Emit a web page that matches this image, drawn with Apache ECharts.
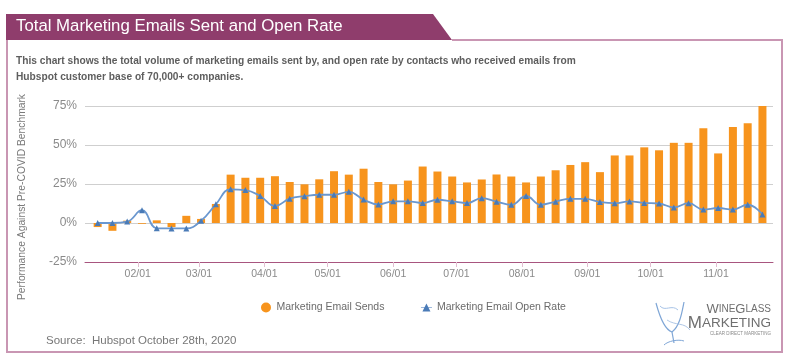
<!DOCTYPE html>
<html><head><meta charset="utf-8">
<script src="https://cdn.jsdelivr.net/npm/echarts@6/dist/echarts.min.js"></script>
<style>html,body{margin:0;padding:0;background:#fff}#c{width:800px;height:359px}</style>
</head><body><div id="c"></div>
<script>
const weeks = ['2020-01-13','2020-01-20','2020-01-27','2020-02-03','2020-02-10','2020-02-17','2020-02-24',
'2020-03-02','2020-03-09','2020-03-16','2020-03-23','2020-03-30','2020-04-06','2020-04-13','2020-04-20','2020-04-27',
'2020-05-04','2020-05-11','2020-05-18','2020-05-25','2020-06-01','2020-06-08','2020-06-15','2020-06-22','2020-06-29',
'2020-07-06','2020-07-13','2020-07-20','2020-07-27','2020-08-03','2020-08-10','2020-08-17','2020-08-24','2020-08-31',
'2020-09-07','2020-09-14','2020-09-21','2020-09-28','2020-10-05','2020-10-12','2020-10-19','2020-10-26',
'2020-11-02','2020-11-09','2020-11-16','2020-11-23'];
const emailSends = [-2.6,-5,1.5,-0.5,1.7,-2.6,4.6,2.6,12.2,31,29,29,30,26.3,24.8,28,33.2,31,34.8,26.3,24.8,27.2,36.2,
33,29.8,26,27.9,31.1,29.8,26,29.8,33.8,37.2,39,32.6,43.3,43.3,48.5,46.6,51.4,51.4,60.7,44.6,61.6,64,75];
const openRate = [0,0,0.9,8.2,-3.4,-3.5,-3.5,1.4,12,21.6,21.1,17.3,10.9,15.6,17.2,18.1,18.1,20,15,11.9,13.9,13.9,12.8,
14.9,13.9,12.8,15.9,13.7,11.7,17.3,11.7,13.7,15.5,15.5,13.5,12.7,13.8,12.9,12.5,10,12.7,8.6,9.6,8.6,11.7,5.5];
const monthTicks = ['2020-02-01','2020-03-01','2020-04-01','2020-05-01','2020-06-01','2020-07-01','2020-08-01',
'2020-09-01','2020-10-01','2020-11-01'];
const yTicks = [-25, 0, 25, 50, 75];

const ff = '"Liberation Sans", Arial, Helvetica, sans-serif';
const toTs = s => { const p = s.split('-').map(Number); return Date.UTC(p[0], p[1]-1, p[2]); };
const monthTs = monthTicks.map(toTs);
const chart = echarts.init(document.getElementById('c'), null, {renderer:'canvas'});
const frame = '#c996b3';
chart.setOption({
  animation:false,
  textStyle:{fontFamily:ff},
  grid:{left:85,right:27,top:106,bottom:97},
  legend:{
    left:256, top:297, itemGap:36, itemWidth:11, itemHeight:10,
    textStyle:{color:'#6b6b6b',fontSize:10.5,fontFamily:ff},
    data:[{name:'Marketing Email Sends',icon:'circle'},{name:'Marketing Email Open Rate',itemStyle:{color:'#4a7bb7'},lineStyle:{width:1,color:'#9db8dc'}}]
  },
  xAxis:{
    type:'value', min:toTs('2020-01-07'), max:toTs('2020-11-28'),
    axisLine:{onZero:false,lineStyle:{color:'#a8557f',width:1}},
    axisTick:{show:true,length:5,lineStyle:{color:'#e2bfd1'},customValues:monthTs},
    splitLine:{show:false},
    axisLabel:{color:'#8a8a8a',fontSize:10.5,margin:7,customValues:monthTs,
      formatter:v=>{const d=new Date(v);return String(d.getUTCMonth()+1).padStart(2,'0')+'/'+String(d.getUTCDate()).padStart(2,'0');}}
  },
  yAxis:{
    type:'value', min:-25, max:75, interval:25,
    axisLine:{show:false}, axisTick:{show:false},
    splitLine:{lineStyle:{color:'#cfcfcf',width:1}},
    axisLabel:{color:'#8a8a8a',fontSize:12,margin:8,formatter:v=>v+'%'}
  },
  series:[
    {name:'Marketing Email Sends',type:'bar',barWidth:8,itemStyle:{color:'#f7941d'},
     data:weeks.map((w,i)=>[toTs(w),emailSends[i]])},
    {name:'Marketing Email Open Rate',type:'line',smooth:0.45,symbol:'triangle',symbolSize:6,showSymbol:true,
     lineStyle:{color:'#6a97cf',width:1.8},itemStyle:{color:'#4a7bb7'},z:5,
     data:weeks.map((w,i)=>[toTs(w),openRate[i]])}
  ],
  graphic:[
    {type:'polyline',shape:{points:[[452,40],[782,40],[782,352],[7,352],[7,40]]},style:{stroke:frame,lineWidth:2,fill:null},silent:true},
    {type:'polygon',shape:{points:[[6,14],[433,14],[452,40],[6,40]]},style:{fill:'#8f3d6c'},silent:true},
    {type:'text',left:16,top:18,style:{text:'Total Marketing Emails Sent and Open Rate',fill:'#ffffff',font:'16.8px '+ff}},
    {type:'text',left:16,top:53,style:{text:'This chart shows the total volume of marketing emails sent by, and open rate by contacts who received emails from\nHubspot customer base of 70,000+ companies.',fill:'#5e5e5e',font:'bold 10.2px '+ff,lineHeight:16}},
    {type:'text',x:22,y:197,rotation:Math.PI/2,style:{text:'Performance Against Pre-COVID Benchmark',fill:'#7a7a7a',font:'10.3px '+ff,align:'center',verticalAlign:'middle'}},
    {type:'text',left:46,top:335,style:{text:'Source:  Hubspot October 28th, 2020',fill:'#777777',font:'11.5px '+ff}},
    {type:'text',x:771,y:303,style:{align:'right',text:'{b|W}{s|INE}{b|G}{s|LASS}',rich:{b:{fontSize:13,fill:'#6f6f6f',fontFamily:ff},s:{fontSize:10,fill:'#6f6f6f',fontFamily:ff}}}},
    {type:'text',x:771,y:315,style:{align:'right',text:'{b|M}{s|ARKETING}',rich:{b:{fontSize:17,fill:'#6f6f6f',fontFamily:ff},s:{fontSize:13.5,fill:'#6f6f6f',fontFamily:ff}}}},
    {type:'text',x:771,y:331,style:{align:'right',text:'CLEAR DIRECT MARKETING',fill:'#8a8a8a',font:'4.5px '+ff}},
    {type:'group',silent:true,children:[
      {type:'bezierCurve',shape:{x1:656,y1:303,x2:672,y2:332,cpx1:660,cpy1:318,cpx2:666,cpy2:330},style:{stroke:'#7fa6d6',lineWidth:1.2,fill:null}},
      {type:'bezierCurve',shape:{x1:672,y1:332,x2:684,y2:302,cpx1:680,cpy1:326,cpx2:682,cpy2:312},style:{stroke:'#7fa6d6',lineWidth:1.2,fill:null}},
      {type:'bezierCurve',shape:{x1:660,y1:306,x2:678,y2:310,cpx1:665,cpy1:312,cpx2:672,cpy2:304},style:{stroke:'#a6c2e6',lineWidth:1,fill:null}},
      {type:'line',shape:{x1:672,y1:332,x2:674,y2:343},style:{stroke:'#7fa6d6',lineWidth:1.2}},
      {type:'bezierCurve',shape:{x1:664,y1:345,x2:684,y2:341,cpx1:668,cpy1:341,cpx2:678,cpy2:339},style:{stroke:'#7fa6d6',lineWidth:1,fill:null}},
      {type:'bezierCurve',shape:{x1:667,y1:320,x2:690,y2:330,cpx1:676,cpy1:326,cpx2:684,cpy2:322},style:{stroke:'#9bb9e0',lineWidth:0.8,fill:null}}
    ]}
  ]
});
</script></body></html>
